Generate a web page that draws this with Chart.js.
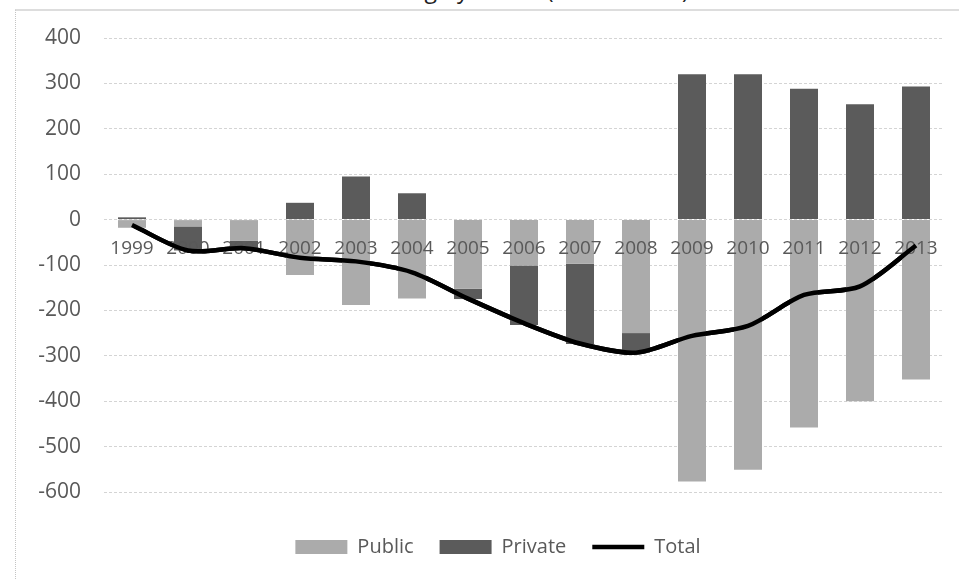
<!DOCTYPE html>
<html>
<head>
<meta charset="utf-8">
<title>Net lending by sector</title>
<script src="https://cdn.jsdelivr.net/npm/chart.js@4"></script>
<style>
  html, body { margin: 0; padding: 0; background: #fff; }
  body { width: 959px; height: 579px; position: relative; overflow: hidden; font-family: "Open Sans", sans-serif; }
  #frame { position: absolute; left: 15px; top: 9px; right: -20px; bottom: -20px;
           border-left: 1px dotted #c4c4c4; border-top: 2px solid #dddddd; }
  #title { position: absolute; left: 0; width: 1002px; top: -22px; text-align: center;
           font-size: 23px; line-height: 1; color: #222; white-space: nowrap; }
  #chart { position: absolute; left: 0; top: 0; }
</style>
</head>
<body>
<div id="title">Net lending by sector (USD billions)</div>
<div id="frame"></div>
<canvas id="chart" width="959" height="579"></canvas>

<script>
// Sector balances, USD billions
const years = ['1999', '2000', '2001', '2002', '2003', '2004', '2005', '2006',
               '2007', '2008', '2009', '2010', '2011', '2012', '2013'];
const publicSector  = [-18, -15, -47, -122, -188, -174, -152, -101, -97, -250, -577, -551, -458, -400, -352];
const privateSector = [5, -53, -17, 37, 95, 58, -23, -131, -177, -43, 320, 320, 288, 254, 293];
const totalBalance  = [-12, -68, -63, -84, -92, -116, -174, -228, -273, -293, -256, -234, -166, -147, -57];

const yMin = -600;
const yMax = 400;
const yStep = 100;

const axisGrey = '#595959';
const fontFamily = '"Open Sans", sans-serif';

// year labels sit on top of the bars, the Total line is painted once more above them
const lineOnTop = {
  id: 'lineOnTop',
  afterLayout(chart) {
    // legend is centred on the whole chart frame, a bit right of the canvas middle
    chart.legend.left += 16;
    chart.legend.right += 16;
  },
  afterDraw(chart) {
    const meta = chart.getDatasetMeta(2);
    if (meta.hidden) return;
    chart.ctx.save();
    meta.controller.draw();
    chart.ctx.restore();
  }
};

new Chart(document.getElementById('chart').getContext('2d'), {
  type: 'bar',
  data: {
    labels: years,
    datasets: [
      {
        label: 'Public',
        data: publicSector,
        backgroundColor: '#ababab',
        borderWidth: 0,
        pointStyle: 'rect',
        categoryPercentage: 0.5,
        barPercentage: 1
      },
      {
        label: 'Private',
        data: privateSector,
        backgroundColor: '#5b5b5b',
        borderWidth: 0,
        pointStyle: 'rect',
        categoryPercentage: 0.5,
        barPercentage: 1
      },
      {
        type: 'line',
        label: 'Total',
        data: totalBalance,
        stack: 'total',
        borderColor: '#000000',
        backgroundColor: '#000000',
        borderWidth: 4.5,
        tension: 0.3,
        pointRadius: 0,
        pointHoverRadius: 0,
        pointStyle: 'line',
        fill: false
      }
    ]
  },
  options: {
    responsive: false,
    animation: false,
    layout: { padding: { top: 38, left: 20, right: 15, bottom: 12 } },
    plugins: {
      legend: {
        position: 'bottom',
        labels: {
          color: axisGrey,
          font: { family: fontFamily, size: 20 },
          usePointStyle: true,
          pointStyleWidth: 52,
          boxHeight: 14,
          padding: 26
        }
      },
      tooltip: { enabled: false }
    },
    scales: {
      x: {
        position: { y: 0 },
        stacked: true,
        grid: { display: false, drawTicks: false },
        border: { display: false },
        ticks: { color: axisGrey, font: { family: fontFamily, size: 19 }, padding: 18,
                 maxRotation: 0, autoSkip: false, z: 1 }
      },
      // keeps room between the plot and the legend
      gap: {
        axis: 'x',
        type: 'category',
        position: 'bottom',
        grid: { display: false },
        border: { display: false },
        ticks: { display: false },
        afterFit(scale) { scale.height = 19; }
      },
      y: {
        stacked: true,
        min: yMin,
        max: yMax,
        ticks: { stepSize: yStep, color: axisGrey, font: { family: fontFamily, size: 21 }, padding: 23 },
        grid: { color: '#d4d4d4', drawTicks: false },
        border: { display: false, dash: [3, 2] },
        afterFit(scale) { scale.width = 84; }
      }
    }
  },
  plugins: [lineOnTop]
});
</script>
</body>
</html>
